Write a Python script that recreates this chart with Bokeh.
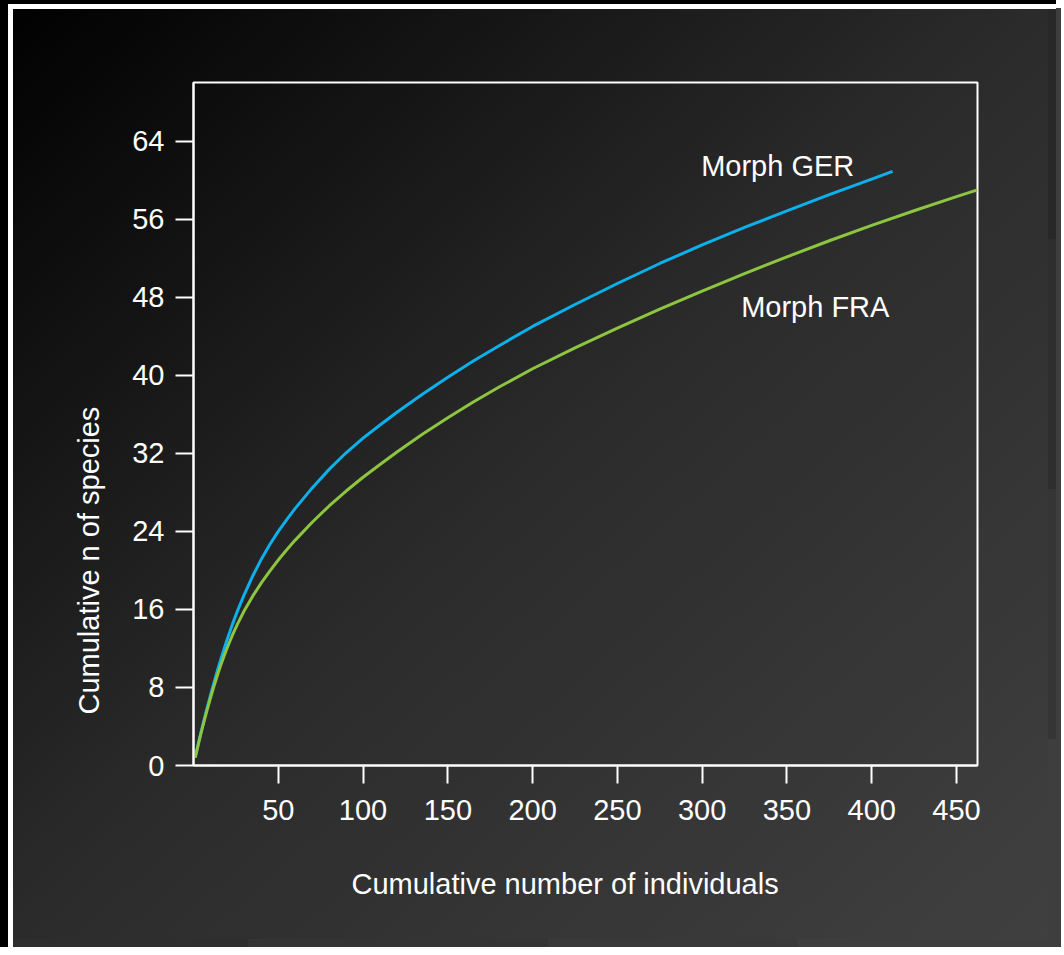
import math
from bokeh.plotting import figure
from bokeh.models import Range1d, FixedTicker, Label, Title
from bokeh.embed import file_html
from bokeh.resources import INLINE

# ---- data ----
ger_x = [1, 2, 3, 4, 5, 6.5, 8, 10, 12, 14, 16, 18, 20, 23, 26, 30, 35, 40, 45, 50, 55, 60,
         70, 80, 90, 100, 110, 120, 135, 150, 165, 180, 200, 225, 250, 275, 300, 325, 350,
         375, 400, 412.3]
ger_y = [0.81, 1.59, 2.35, 3.09, 3.81, 4.86, 5.88, 7.19, 8.45, 9.66, 10.82, 11.93, 12.99,
         14.49, 15.87, 17.55, 19.45, 21.15, 22.65, 24.0, 25.2, 26.35, 28.45, 30.35, 32.05,
         33.55, 34.9, 36.2, 38.05, 39.8, 41.45, 43.0, 45.0, 47.25, 49.4, 51.45, 53.35, 55.15,
         56.85, 58.5, 60.1, 60.9]

fra_x = [1, 2, 3, 4, 5, 6.5, 8, 10, 12, 14, 16, 18, 20, 23, 26, 30, 35, 40, 45, 50, 55, 60,
         70, 80, 90, 100, 110, 120, 135, 150, 165, 180, 200, 225, 250, 275, 300, 325, 350,
         375, 400, 425, 450, 462.4]
fra_y = [0.81, 1.56, 2.29, 3.0, 3.69, 4.70, 5.67, 6.91, 8.10, 9.2, 10.24, 11.21, 12.12,
         13.38, 14.52, 15.88, 17.38, 18.72, 19.93, 21.06, 22.11, 23.1, 24.93, 26.6, 28.13,
         29.54, 30.85, 32.13, 33.94, 35.65, 37.26, 38.76, 40.66, 42.81, 44.83, 46.78, 48.63,
         50.41, 52.13, 53.78, 55.36, 56.86, 58.31, 59.0]

x_ticks = [50, 100, 150, 200, 250, 300, 350, 400, 450]
y_ticks = [0, 8, 16, 24, 32, 40, 48, 56, 64]

series_names = ["Morph GER", "Morph FRA"]
x_title = "Cumulative number of individuals"
y_title = "Cumulative n of species"

FONT = "Liberation Sans"
FS = "29px"
WHITE = "#ffffff"

p = figure(width=1048, height=939, output_backend="svg", toolbar_location=None,
           x_range=Range1d(0, 462.4), y_range=Range1d(0, 70),
           min_border_left=193, min_border_right=71, min_border_top=82, min_border_bottom=174)

p.background_fill_alpha = 0
p.border_fill_alpha = 0
p.outline_line_color = WHITE
p.outline_line_width = 2
p.grid.visible = False

shadows = [
    "8px -935px 0 0 #000000",
    "8px -930px 0 0 #ffffff",
    "8px -700px 0 0 #282828",
    "8px -450px 0 0 #2e2e2e",
    "8px -200px 0 0 #353535",
    "-1040px 8px 0 0 #000000",
    "-1035px 8px 0 0 #ffffff",
    "-800px 8px 0 0 #2e2e2e",
    "-500px 8px 0 0 #343434",
    "-250px 8px 0 0 #393939",
    "13px 8px 0 0 #3e3e3e",
    "inset 8px 4px 0 0 #000000",
    "inset 13px 9px 0 0 #ffffff",
]
p.styles = {
    "background": "linear-gradient(to bottom right, #000000 0%, #2b2b2b 50%, #404040 100%)",
    "box-shadow": ", ".join(shadows),
}

for ax in (p.xaxis[0], p.yaxis[0]):
    ax.axis_line_color = WHITE
    ax.axis_line_width = 2
    ax.major_tick_line_color = WHITE
    ax.major_tick_line_width = 2
    ax.major_tick_out = 18
    ax.major_tick_in = 0
    ax.minor_tick_line_color = None
    ax.major_label_text_color = WHITE
    ax.major_label_text_font = FONT
    ax.major_label_text_font_size = FS

p.xaxis.ticker = FixedTicker(ticks=x_ticks)
p.yaxis.ticker = FixedTicker(ticks=y_ticks)
p.xaxis.major_label_standoff = 16
p.yaxis.major_label_standoff = 11

p.line(ger_x, ger_y, line_color="#0cb0ec", line_width=3, line_join="round")
p.line(fra_x, fra_y, line_color="#8dc540", line_width=3, line_join="round")

p.add_layout(Label(x=299.4, y=61.4, text=series_names[0], text_color=WHITE,
                   text_font=FONT, text_font_size=FS, text_baseline="alphabetic", text_align="left"))
p.add_layout(Label(x=323.0, y=47.0, text=series_names[1], text_color=WHITE,
                   text_font=FONT, text_font_size=FS, text_baseline="alphabetic", text_align="left"))

# spacer between the x axis and its title
p.add_layout(Title(text=" ", text_font_size="1px", standoff=35, text_color=WHITE), "below")
xt = Title(text=x_title, align="left", offset=158, standoff=10, text_color=WHITE,
           text_font=FONT, text_font_size=FS, text_font_style="normal")
p.add_layout(xt, "below")
yt = Title(text=y_title, align="left", offset=51, standoff=50, text_color=WHITE,
           text_font=FONT, text_font_size=FS, text_font_style="normal")
p.add_layout(yt, "left")

open("out.html", "w").write(file_html(p, INLINE))
